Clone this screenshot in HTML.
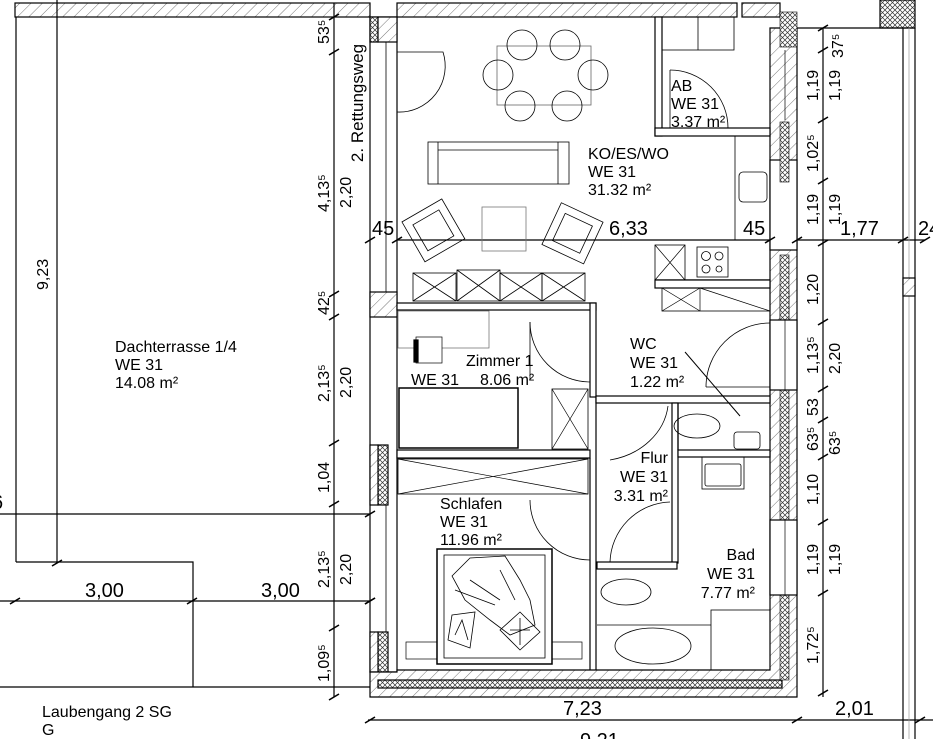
<!DOCTYPE html>
<html><head><meta charset="utf-8"><style>
html,body{margin:0;padding:0;background:#fff;}
svg{display:block;}
text{font-family:"Liberation Sans",sans-serif;fill:#000;}
</style></head><body>
<svg width="933" height="739" viewBox="0 0 933 739" xmlns="http://www.w3.org/2000/svg">
<defs>
<pattern id="h" width="8" height="8" patternUnits="userSpaceOnUse" patternTransform="rotate(45)">
<rect width="8" height="8" fill="#fff"/><line x1="0" y1="0" x2="0" y2="8" stroke="#555" stroke-width="0.8"/></pattern>
<pattern id="x" width="5" height="5" patternUnits="userSpaceOnUse">
<rect width="5" height="5" fill="#fff"/><path d="M0 0L5 5M5 0L0 5" stroke="#333" stroke-width="0.7"/></pattern>
</defs>
<g stroke="#000" fill="none" stroke-width="1.2">
<rect x="15" y="3" width="355" height="14" fill="url(#h)"/>
<rect x="397" y="3" width="340" height="14" fill="url(#h)"/>
<rect x="742" y="3" width="38" height="14" fill="url(#h)"/>
<line x1="16" y1="17" x2="16" y2="562"/>
<line x1="57" y1="0" x2="57" y2="563"/>
<polyline points="16,562 193,562 193,687"/>
<line x1="0" y1="514" x2="372" y2="514"/>
<line x1="0" y1="601" x2="372" y2="601"/>
<line x1="0" y1="687" x2="372" y2="687"/>
<line x1="334" y1="3" x2="334" y2="697"/>
<line x1="370" y1="240" x2="925" y2="240"/>
<line x1="823" y1="28" x2="823" y2="697"/>
<line x1="368" y1="720" x2="933" y2="720"/>
<rect x="370" y="17" width="27" height="655" fill="#fff"/>
<rect x="370" y="17" width="8" height="25" fill="url(#x)"/>
<rect x="378" y="17" width="19" height="25" fill="url(#h)"/>
<rect x="370" y="292" width="27" height="25" fill="url(#h)"/>
<rect x="378" y="445" width="10" height="60" fill="url(#x)"/>
<rect x="370" y="445" width="8" height="60" fill="url(#h)"/>
<rect x="378" y="632" width="10" height="40" fill="url(#x)"/>
<rect x="370" y="632" width="8" height="40" fill="url(#h)"/>
<line x1="386" y1="42" x2="386" y2="292" stroke-width="0.8"/>
<line x1="386" y1="505" x2="386" y2="632" stroke-width="0.8"/>
<path d="M370 672 L370 697 L797 697 L797 28 L770 28 L770 670 L397 670 L397 672 Z" fill="url(#h)"/>
<rect x="378" y="680" width="404" height="8" fill="url(#x)"/>
<rect x="780" y="290" width="9" height="390" fill="url(#x)" stroke-width="0.6"/>
<rect x="770" y="160" width="27" height="90" fill="#fff"/>
<rect x="780" y="122" width="9" height="60" fill="url(#x)" stroke-width="0.6"/>
<rect x="780" y="255" width="9" height="65" fill="url(#x)" stroke-width="0.6"/>
<rect x="780" y="12" width="17" height="35" fill="url(#x)" stroke-width="0.6"/>
<rect x="770" y="320" width="27" height="70" fill="#fff"/>
<rect x="770" y="520" width="27" height="75" fill="#fff"/>
<line x1="785" y1="320" x2="785" y2="390" stroke-width="0.7"/>
<line x1="785" y1="520" x2="785" y2="595" stroke-width="0.7"/>
<line x1="785" y1="50" x2="785" y2="120" stroke-width="0.7"/>
<rect x="880" y="0" width="35" height="28" fill="url(#x)"/>
<line x1="797" y1="28" x2="915" y2="28"/>
<line x1="903" y1="28" x2="903" y2="739"/>
<line x1="915" y1="28" x2="915" y2="739"/>
<line x1="909" y1="28" x2="909" y2="739" stroke="#999" stroke-width="0.7"/>
<rect x="903" y="278" width="12" height="18" fill="url(#h)"/>
<rect x="397" y="303" width="199" height="7" fill="#fff"/>
<rect x="590" y="303" width="6" height="94" fill="#fff"/>
<rect x="397" y="450" width="193" height="8" fill="#fff"/>
<line x1="590" y1="458" x2="590" y2="670"/>
<line x1="596" y1="397" x2="596" y2="670"/>
<rect x="596" y="396" width="174" height="7" fill="#fff"/>
<rect x="672" y="403" width="6" height="160" fill="#fff"/>
<rect x="597" y="562" width="80" height="7" fill="#fff"/>
<rect x="678" y="450" width="92" height="7" fill="#fff"/>
<line x1="678" y1="403" x2="678" y2="450"/>
<rect x="655" y="17" width="7" height="119" fill="#fff"/>
<rect x="655" y="128" width="115" height="8" fill="#fff"/>
<rect x="662" y="17" width="72" height="33" stroke-width="0.8"/>
<line x1="698" y1="17" x2="698" y2="50" stroke-width="0.8"/>
<path d="M670 70 A58 58 0 0 1 728 128" stroke-width="0.8"/>
<line x1="670" y1="70" x2="670" y2="128" stroke-width="0.8"/>
<rect x="735" y="136" width="35" height="104" stroke-width="0.8"/>
<rect x="739" y="172" width="28" height="30" rx="4" stroke-width="0.8"/>
<rect x="655" y="245" width="30" height="35" stroke-width="0.8"/>
<path d="M655 245L685 280M685 245L655 280" stroke-width="0.7"/>
<rect x="697" y="247" width="31" height="30" stroke-width="0.8"/>
<circle cx="706" cy="256" r="4.5" stroke-width="0.8"/><circle cx="719" cy="256" r="4" stroke-width="0.8"/>
<circle cx="706" cy="269" r="4" stroke-width="0.8"/><circle cx="719" cy="269" r="3" stroke-width="0.8"/>
<line x1="655" y1="280" x2="770" y2="280"/>
<rect x="655" y="280" width="115" height="8" fill="#fff"/>
<rect x="662" y="288" width="108" height="23" stroke-width="0.8"/>
<path d="M662 288L700 311M700 288L662 311" stroke-width="0.7"/>
<line x1="700" y1="288" x2="700" y2="311" stroke-width="0.7"/>
<line x1="700" y1="288" x2="770" y2="311" stroke-width="0.7"/>
<path d="M397 52 L443 52 A46 46 0 0 1 397 112" stroke-width="0.8"/>
<rect x="497" y="46" width="94" height="59" stroke="#666" stroke-width="0.8"/>
<g stroke-width="0.8">
<circle cx="522" cy="45" r="15"/><circle cx="565" cy="45" r="15"/>
<circle cx="498" cy="75" r="15"/><circle cx="593" cy="75" r="15"/>
<circle cx="520" cy="106" r="15"/><circle cx="567" cy="106" r="15"/>
</g>
<rect x="428" y="142" width="141" height="42" stroke-width="0.8"/>
<line x1="438" y1="142" x2="438" y2="184" stroke-width="0.8"/>
<line x1="558" y1="142" x2="558" y2="184" stroke-width="0.8"/>
<line x1="438" y1="150" x2="558" y2="150" stroke-width="0.8"/>
<rect x="482" y="207" width="44" height="44" stroke="#777" stroke-width="0.8"/>
<g transform="rotate(-30 432 230)" stroke-width="0.8"><rect x="410" y="208" width="46" height="46"/><rect x="418" y="216" width="30" height="30"/></g>
<g transform="rotate(25 572 232)" stroke-width="0.8"><rect x="550" y="210" width="46" height="46"/><rect x="558" y="218" width="30" height="30"/></g>
<g stroke-width="0.8">
<rect x="413" y="273" width="43" height="28"/><path d="M413 273L456 301M456 273L413 301"/>
<rect x="457" y="270" width="43" height="31"/><path d="M457 270L500 301M500 270L457 301"/>
<rect x="500" y="273" width="42" height="28"/><path d="M500 273L542 301M542 273L500 301"/>
<rect x="542" y="273" width="43" height="28"/><path d="M542 273L585 301M585 273L542 301"/>
</g>
<rect x="398" y="311" width="91" height="37" stroke="#666" stroke-width="0.7"/>
<rect x="416" y="337" width="26" height="26" stroke-width="0.7" fill="#fff"/>
<rect x="414" y="340" width="4" height="22" fill="#000"/>
<rect x="399" y="388" width="119" height="60" stroke-width="1.5"/>
<rect x="552" y="389" width="36" height="60" stroke-width="0.8"/>
<path d="M552 389L588 449M588 389L552 449" stroke-width="0.7"/>
<path d="M530 322 A60 60 0 0 0 590 382" stroke-width="0.8"/>
<line x1="530" y1="322" x2="530" y2="380" stroke-width="0.8"/>
<rect x="398" y="459" width="190" height="35" stroke-width="0.8"/>
<path d="M398 459L588 494M588 459L398 494" stroke-width="0.7"/>
<path d="M530 500 A60 60 0 0 0 590 560" stroke-width="0.8"/>
<rect x="437" y="549" width="115" height="115" stroke-width="1.5"/>
<rect x="444" y="555" width="101" height="103" stroke-width="0.8"/>
<path d="M452 576 L470 558 L505 556 L520 580 L530 600 L535 625 L510 635 L490 620 L465 600 Z M455 590 L495 605 M470 580 L500 600 M500 570 L515 600" stroke-width="0.8"/>
<path d="M452 615 L475 612 L470 648 L448 640 Z M455 635 L462 620 L468 640" stroke-width="0.8"/>
<path d="M500 630 L520 612 L540 632 L520 650 Z M510 630 L530 630 M520 618 L520 645" stroke-width="0.8"/>
<rect x="406" y="642" width="31" height="17" stroke-width="0.7"/>
<rect x="552" y="642" width="30" height="17" stroke-width="0.7"/>
<path d="M668 406 A72 62 0 0 1 610 460" stroke-width="0.8"/>
<path d="M670 502 A62 62 0 0 0 610 562" stroke-width="0.8"/>
<path d="M770 323 A64 64 0 0 0 706 387" stroke-width="0.8"/>
<line x1="706" y1="387" x2="770" y2="387" stroke-width="0.8"/>
<line x1="685" y1="352" x2="740" y2="416" stroke-width="1"/>
<ellipse cx="697" cy="426" rx="23" ry="12" stroke-width="0.8"/>
<rect x="734" y="432" width="26" height="17" rx="3" stroke-width="0.8"/>
<rect x="702" y="457" width="42" height="32" stroke-width="0.8"/>
<rect x="705" y="464" width="36" height="22" rx="2" stroke-width="0.8"/>
<ellipse cx="626" cy="592" rx="25" ry="13" stroke-width="0.8"/>
<line x1="597" y1="625" x2="711" y2="625" stroke-width="0.8"/>
<ellipse cx="653" cy="646" rx="38" ry="18" stroke-width="0.8"/>
<rect x="711" y="610" width="59" height="60" stroke-width="0.8"/>
<g stroke-width="1.6">
<path d="M329 20l10-6M329 55l10-6M329 297l10-6M329 320l10-6M329 446l10-6M329 507l10-6M329 631l10-6M329 700l10-6"/>
<path d="M365 517l10-6M365 604l10-6"/>
<path d="M10 604l10-6M187 604l10-6M365 604l10-6"/>
<path d="M52 566l10-6"/>
<path d="M365 243l10-6M392 243l10-6M765 243l10-6M792 243l10-6M898 243l10-6M920 243l10-6"/>
<path d="M818 31l10-6M818 53l10-6M818 123l10-6M818 184l10-6M818 246l10-6M818 325l10-6M818 392l10-6M818 423l10-6M818 460l10-6M818 525l10-6M818 596l10-6M818 696l10-6"/>
<path d="M365 723l10-6M792 723l10-6M915 723l10-6"/>
</g>
</g>
<g font-size="16">
<text x="115" y="352">Dachterrasse 1/4</text>
<text x="115" y="370">WE 31</text>
<text x="115" y="388">14.08 m²</text>
<text x="588" y="159">KO/ES/WO</text>
<text x="588" y="177">WE 31</text>
<text x="588" y="195">31.32 m²</text>
<text x="671" y="91">AB</text>
<text x="671" y="109">WE 31</text>
<text x="671" y="127">3.37 m²</text>
<text x="466" y="366">Zimmer 1</text>
<text x="411" y="385">WE 31</text>
<text x="480" y="385">8.06 m²</text>
<text x="630" y="349">WC</text>
<text x="630" y="368">WE 31</text>
<text x="630" y="387">1.22 m²</text>
<text x="668" y="463" text-anchor="end">Flur</text>
<text x="668" y="482" text-anchor="end">WE 31</text>
<text x="668" y="501" text-anchor="end">3.31 m²</text>
<text x="440" y="509">Schlafen</text>
<text x="440" y="527">WE 31</text>
<text x="440" y="545">11.96 m²</text>
<text x="755" y="560" text-anchor="end">Bad</text>
<text x="755" y="579" text-anchor="end">WE 31</text>
<text x="755" y="598" text-anchor="end">7.77 m²</text>
<text x="42" y="717">Laubengang 2 SG</text>
<text x="42" y="735">G</text>
</g>
<text font-size="17" text-anchor="middle" transform="translate(363 103) rotate(-90)">2. Rettungsweg</text>
<g font-size="20">
<text x="85" y="597">3,00</text>
<text x="261" y="597">3,00</text>
<text x="372" y="235">45</text>
<text x="609" y="235">6,33</text>
<text x="743" y="235">45</text>
<text x="840" y="235">1,77</text>
<text x="918" y="235">24</text>
<text x="563" y="715">7,23</text>
<text x="835" y="715">2,01</text>
<text x="580" y="747">9,21</text>
<text x="-8" y="509">6</text>
</g>
<g font-size="16">
<text transform="translate(48 290) rotate(-90)">9,23</text>
<text transform="translate(329 44) rotate(-90)">53⁵</text>
<text transform="translate(329 212) rotate(-90)">4,13⁵</text>
<text transform="translate(351 208) rotate(-90)">2,20</text>
<text transform="translate(329 315) rotate(-90)">42⁵</text>
<text transform="translate(329 402) rotate(-90)">2,13⁵</text>
<text transform="translate(351 398) rotate(-90)">2,20</text>
<text transform="translate(329 493) rotate(-90)">1,04</text>
<text transform="translate(329 588) rotate(-90)">2,13⁵</text>
<text transform="translate(351 585) rotate(-90)">2,20</text>
<text transform="translate(329 682) rotate(-90)">1,09⁵</text>
<text transform="translate(843 58) rotate(-90)">37⁵</text>
<text transform="translate(818 101) rotate(-90)">1,19</text>
<text transform="translate(840 101) rotate(-90)">1,19</text>
<text transform="translate(818 172) rotate(-90)">1,02⁵</text>
<text transform="translate(818 225) rotate(-90)">1,19</text>
<text transform="translate(840 225) rotate(-90)">1,19</text>
<text transform="translate(818 305) rotate(-90)">1,20</text>
<text transform="translate(818 374) rotate(-90)">1,13⁵</text>
<text transform="translate(840 374) rotate(-90)">2,20</text>
<text transform="translate(818 416) rotate(-90)">53</text>
<text transform="translate(818 451) rotate(-90)">63⁵</text>
<text transform="translate(840 455) rotate(-90)">63⁵</text>
<text transform="translate(818 505) rotate(-90)">1,10</text>
<text transform="translate(818 575) rotate(-90)">1,19</text>
<text transform="translate(840 575) rotate(-90)">1,19</text>
<text transform="translate(818 664) rotate(-90)">1,72⁵</text>
</g>
</svg>
</body></html>
